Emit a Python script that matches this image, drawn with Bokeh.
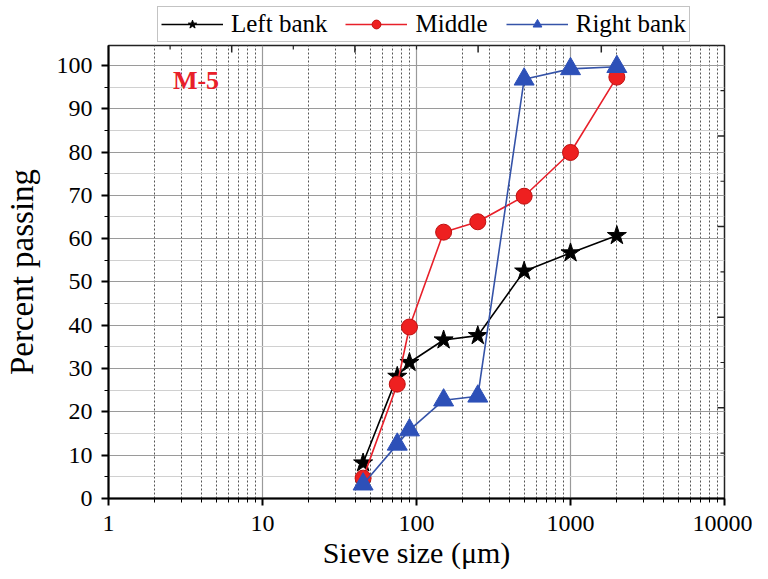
import math
from bokeh.plotting import figure
from bokeh.layouts import column
from bokeh.models import (FixedTicker, SingleIntervalTicker, Legend, LegendItem, Range1d)
from bokeh.core.properties import value
from bokeh.embed import file_html
from bokeh.resources import INLINE

# ---- data ----
sieve = [45, 75, 90, 150, 250, 500, 1000, 2000]
left_bank = [8.2, 28.2, 31.4, 36.6, 37.6, 52.5, 56.7, 60.7]
middle = [4.7, 26.4, 39.6, 61.5, 63.9, 69.8, 79.9, 97.3]
right_bank = [3.3, 12.5, 15.8, 22.7, 23.6, 96.8, 99.2, 99.7]
series_names = ["Left bank", "Middle", "Right bank"]

x_ticks = [1, 10, 100, 1000, 10000]
x_tick_labels = ["1", "10", "100", "1000", "10000"]
x_minor = [m * d for d in [1, 10, 100, 1000] for m in range(2, 10)]
x_min, x_max = 1, 10000
y_min, y_max = 0, 104.6
top_major = [6.31, 39.81, 251.2, 1584.9]
top_minor = [2.512, 15.85, 100.0, 631.0, 3981.1]
right_major = [20.93, 41.86, 62.79, 83.72]
right_minor = [10.46, 31.40, 52.33, 73.26, 94.19]

FONT = "Liberation Serif"

STYLES = [
    dict(line=dict(line_color="black", line_width=1.6),
         mark=dict(marker="star", size=20, fill_color="black", line_color="black")),
    dict(line=dict(line_color="#e8202a", line_width=1.6),
         mark=dict(marker="circle", size=16, fill_color="#ee2020",
                   line_color="#c01010", line_width=1)),
    dict(line=dict(line_color="#3553a8", line_width=1.6),
         mark=dict(marker="triangle", size=20, fill_color="#2d50b8",
                   line_color="#2d50b8")),
]
SERIES = [left_bank, middle, right_bank]

# ---------- main plot ----------
p = figure(width=752, height=527, x_axis_type="log",
           x_range=Range1d(x_min, x_max), y_range=Range1d(y_min, y_max),
           output_backend="svg", toolbar_location=None,
           min_border_left=101, min_border_right=28,
           min_border_top=1, min_border_bottom=70)
p.outline_line_color = "#222222"
p.outline_line_width = 1.5
p.background_fill_color = "white"
p.border_fill_color = "white"

xa = p.xaxis[0]
xa.ticker = FixedTicker(ticks=x_ticks, minor_ticks=x_minor)
xa.major_label_overrides = {t: l for t, l in zip(x_ticks, x_tick_labels)}
xa.axis_label = "Sieve size (μm)"
ya = p.yaxis[0]
ya.ticker = SingleIntervalTicker(interval=10, num_minor_ticks=2)
ya.axis_label = "Percent passing"

for ax in (xa, ya):
    ax.axis_line_color = "black"
    ax.axis_line_width = 2
    ax.major_tick_line_color = "black"
    ax.minor_tick_line_color = "black"
    ax.major_tick_line_width = 2
    ax.major_tick_out = 7
    ax.major_tick_in = 0
    ax.minor_tick_out = 4
    ax.minor_tick_in = 0
    ax.major_label_text_font = FONT
    ax.major_label_text_font_size = "24px"
    ax.major_label_text_color = "black"
    ax.axis_label_text_font = FONT
    ax.axis_label_text_font_style = "normal"
    ax.axis_label_text_color = "black"
xa.axis_label_text_font_size = "30px"
ya.axis_label_text_font_size = "33px"
xa.major_label_standoff = 10
xa.axis_label_standoff = 2
ya.major_label_standoff = 9
ya.axis_label_standoff = 14

p.xgrid.grid_line_color = "#9a9a9a"
p.xgrid.grid_line_width = 1.2
p.xgrid.minor_grid_line_color = "#555555"
p.xgrid.minor_grid_line_dash = "2 2"
p.xgrid.minor_grid_line_width = 1
p.ygrid.grid_line_color = "#9a9a9a"
p.ygrid.grid_line_width = 1.2
p.ygrid.minor_grid_line_color = "#d0d0d0"
p.ygrid.minor_grid_line_width = 1

# mirrored inward ticks on top and right frame edges
p.scatter(top_major, [y_max] * len(top_major), marker="dash", angle=math.pi / 2,
          size=14, line_color="#222222", line_width=1.5)
p.scatter(top_minor, [y_max] * len(top_minor), marker="dash", angle=math.pi / 2,
          size=8, line_color="#222222", line_width=1.2)
p.scatter([x_max] * len(right_major), right_major, marker="dash",
          size=14, line_color="#222222", line_width=1.5)
p.scatter([x_max] * len(right_minor), right_minor, marker="dash",
          size=8, line_color="#222222", line_width=1.2)

for ys, st in zip(SERIES, STYLES):
    p.line(sieve, ys, **st["line"])
    p.scatter(sieve, ys, **st["mark"])

p.text(x=[2.62], y=[96.5], text=["M-5"], text_font=value(FONT),
       text_font_style="bold", text_font_size="26px", text_color="#e8202a",
       text_baseline="middle", text_align="left")

# ---------- legend strip above the plot ----------
# the same series are drawn here, but the strip's y range lies above the data,
# so only the legend is visible
lf = figure(width=752, height=44, x_axis_type="log",
            x_range=Range1d(x_min, x_max), y_range=Range1d(500, 600),
            x_axis_location=None, y_axis_location=None,
            output_backend="svg", toolbar_location=None,
            min_border_left=101, min_border_right=28,
            min_border_top=4, min_border_bottom=0)
lf.grid.visible = False
lf.outline_line_color = None
lf.background_fill_color = "white"
lf.border_fill_color = "white"

items = []
for name, ys, st in zip(series_names, SERIES, STYLES):
    r1 = lf.line(sieve, ys, **st["line"])
    r2 = lf.scatter(sieve, ys, **st["mark"])
    items.append(LegendItem(label=name, renderers=[r1, r2]))

legend = Legend(items=items, orientation="horizontal", location=(49, 2))
legend.label_text_font = FONT
legend.label_text_font_size = "25px"
legend.label_text_color = "black"
legend.glyph_width = 62
legend.glyph_height = 22
legend.label_standoff = 8
legend.spacing = 18
legend.padding = 3
legend.margin = 0
legend.border_line_color = "#888888"
legend.border_line_width = 1
legend.background_fill_color = "white"
legend.background_fill_alpha = 1
lf.add_layout(legend, "center")

layout = column(lf, p, spacing=0)
open("out.html", "w").write(file_html(layout, INLINE))
